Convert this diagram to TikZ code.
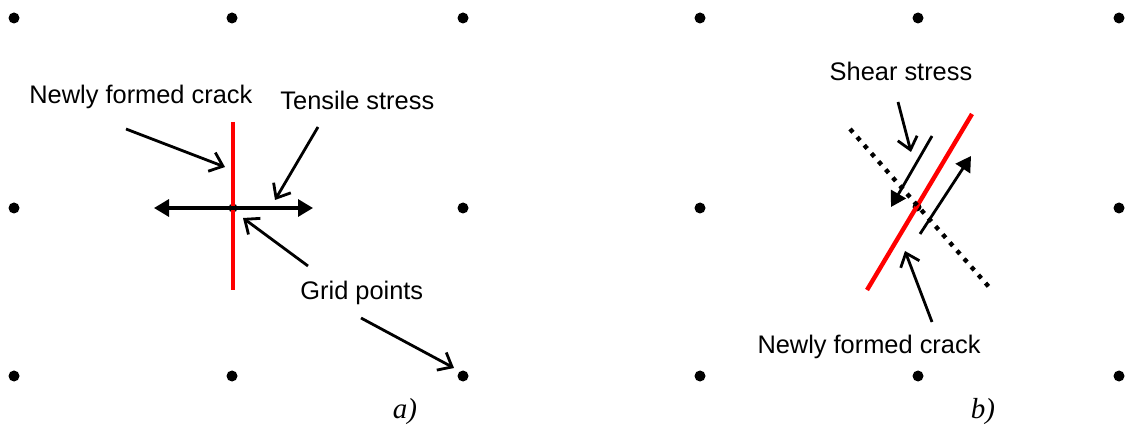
\documentclass[tikz,border=0pt]{standalone}
\usepackage{fontspec}
\setmainfont{Liberation Sans}
\newfontfamily\serifit{Liberation Serif}
\usetikzlibrary{arrows.meta}
\begin{document}
\begin{tikzpicture}[x=0.5pt,y=-0.5pt,
  gridpt/.style={circle,fill=black,inner sep=0pt,minimum size=5.5pt},
  centerpt/.style={circle,fill=black,inner sep=0pt,minimum size=4.5pt},
  lbl/.style={font=\fontsize{12.7}{15}\selectfont,inner sep=0pt},
  panel/.style={font=\serifit\itshape\fontsize{14.5}{17}\selectfont,inner sep=0pt},
  pointer/.style={line width=1.4pt,-{Straight Barb[length=6pt,width=10pt,line width=1.4pt]}},
  stress/.style={line width=1.6pt,-{Triangle[length=7.5pt,width=8.5pt]}},
  shear/.style={line width=1.4pt,-{Triangle[length=7.5pt,width=8.5pt]}},
  crack/.style={red,line width=2.2pt},
  plane/.style={line width=2.2pt,dash pattern=on 2.2pt off 3.2pt}]
\useasboundingbox (0,0) rectangle (1134,432);
% grid points, panel a
\node[gridpt] (a11) at (14,18) {};
\node[gridpt] (a12) at (232,18) {};
\node[gridpt] (a13) at (463,18) {};
\node[gridpt] (a21) at (14,208) {};
\node[centerpt] (a22) at (233,208) {};
\node[gridpt] (a23) at (463,208) {};
\node[gridpt] (a31) at (14,376) {};
\node[gridpt] (a32) at (232,376) {};
\node[gridpt] (a33) at (463,376) {};
% grid points, panel b
\node[gridpt] (b11) at (700,18) {};
\node[gridpt] (b12) at (918,18) {};
\node[gridpt] (b13) at (1119,18) {};
\node[gridpt] (b21) at (700,208) {};
\node[centerpt] (b22) at (917,207) {};
\node[gridpt] (b23) at (1119,208) {};
\node[gridpt] (b31) at (700,376) {};
\node[gridpt] (b32) at (918,376) {};
\node[gridpt] (b33) at (1119,376) {};
% panel a
\coordinate (actop) at (233,122);
\coordinate (acbot) at (233,290);
\draw[crack] (actop) -- (acbot);
\coordinate (aleft) at (154,208);
\coordinate (aright) at (313,208);
\draw[stress] (a22.center) -- (aleft);
\draw[stress] (a22.center) -- (aright);
\node[lbl,anchor=west] (lnew) at (29,97) {Newly formed crack};
\node[lbl,anchor=west] (lten) at (280,100) {Tensile stress};
\node[lbl,anchor=west] (lgrid) at (300,293) {Grid points};
\coordinate (pnew) at (126,129);
\coordinate (tnew) at (225,167);
\draw[pointer] (pnew) -- (tnew);
\coordinate (pten) at (318,127);
\coordinate (tten) at (275,200);
\draw[pointer] (pten) -- (tten);
\coordinate (pg1) at (308,266);
\coordinate (tg1) at (243,218);
\draw[pointer] (pg1) -- (tg1);
\coordinate (pg2) at (361,318);
\coordinate (tg2) at (454,368);
\draw[pointer] (pg2) -- (tg2);
\node[panel] (pa) at (405,412) {a)};
% panel b
\coordinate (bctop) at (972,114);
\coordinate (bcbot) at (867,290);
\draw[crack] (bctop) -- (bcbot);
\coordinate (bdtop) at (850,129);
\coordinate (bdbot) at (989,287);
\draw[plane] (bdtop) -- (bdbot);
\coordinate (s1a) at (932,136);
\coordinate (s1b) at (891,207);
\draw[shear] (s1a) -- (s1b);
\coordinate (s2a) at (920,234);
\coordinate (s2b) at (971,156);
\draw[shear] (s2a) -- (s2b);
\node[lbl] (lshear) at (901,71) {Shear stress};
\node[lbl] (lnewb) at (869,347) {Newly formed crack};
\coordinate (psh) at (898,102);
\coordinate (tsh) at (911,152);
\draw[pointer] (psh) -- (tsh);
\coordinate (pnb) at (932,322);
\coordinate (tnb) at (905,251);
\draw[pointer] (pnb) -- (tnb);
\node[panel] (pb) at (983,412) {b)};
\end{tikzpicture}
\end{document}
